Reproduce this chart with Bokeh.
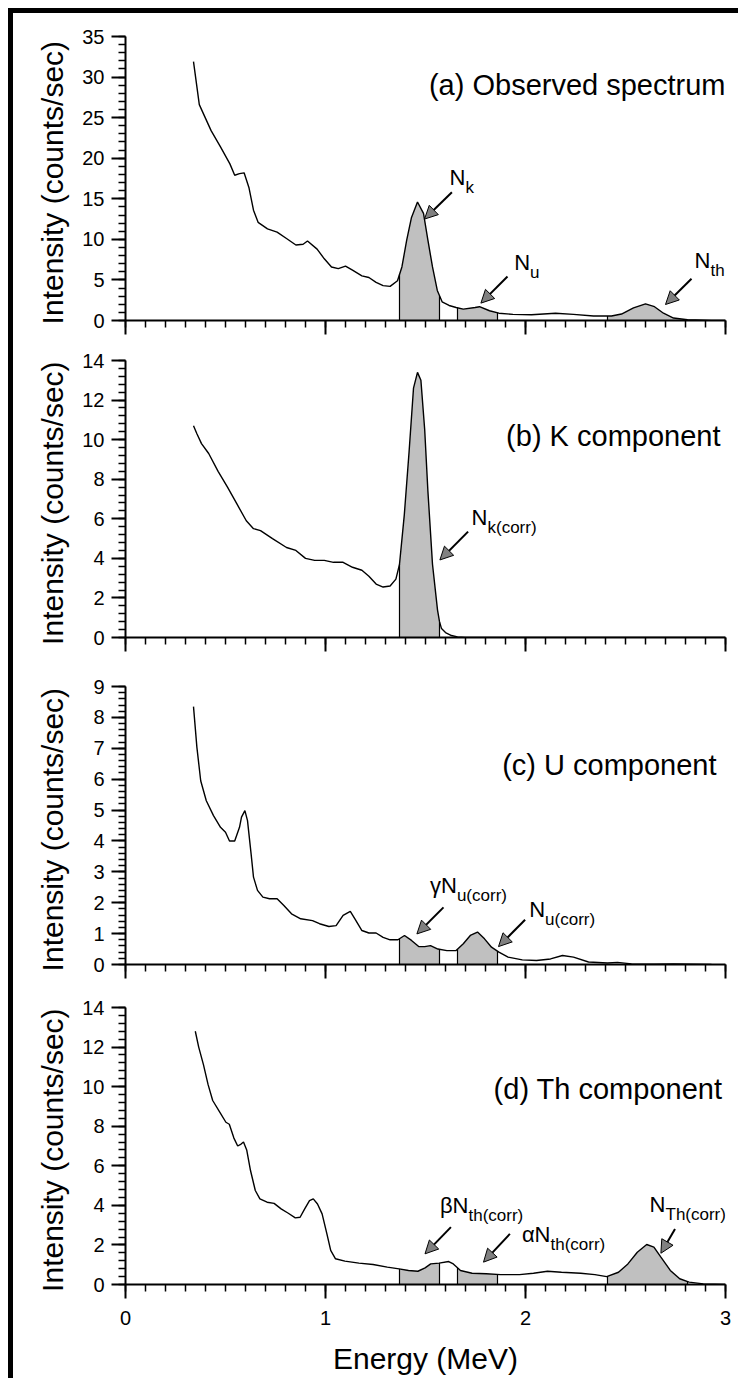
import numpy as np
from bokeh.plotting import figure
from bokeh.models import (Range1d, FixedTicker, Arrow, NormalHead, Label, Spacer,
                          CustomLabelingPolicy)
from bokeh.layouts import column, row
from bokeh.embed import file_html
from bokeh.resources import INLINE

FONT = "Liberation Sans"

# ---------------- data ----------------
energy_a = [0.34, 0.369, 0.428, 0.475, 0.522, 0.546, 0.57, 0.593, 0.617, 0.64, 0.663, 0.71, 0.758,
            0.805, 0.852, 0.888, 0.91, 0.958, 0.994, 1.03, 1.064, 1.1, 1.135, 1.182, 1.217, 1.253,
            1.288, 1.323, 1.36, 1.382, 1.406, 1.43, 1.46, 1.49, 1.512, 1.535, 1.559, 1.583, 1.618,
            1.653, 1.689, 1.748, 1.77, 1.82, 1.867, 1.937, 2.03, 2.15, 2.24, 2.34, 2.43, 2.48,
            2.54, 2.6, 2.645, 2.69, 2.74, 2.81, 2.93, 3.0]
counts_a = [31.9, 26.6, 23.4, 21.4, 19.3, 17.9, 18.1, 18.2, 16.4, 13.6, 12.1, 11.3, 10.9,
            10.1, 9.3, 9.4, 9.8, 8.8, 7.6, 6.6, 6.4, 6.7, 6.2, 5.5, 5.3, 4.7,
            4.3, 4.2, 4.9, 6.6, 9.9, 12.7, 14.6, 13.2, 9.9, 6.6, 3.7, 2.3, 1.85,
            1.6, 1.4, 1.6, 1.7, 1.2, 0.9, 0.75, 0.7, 0.9, 0.75, 0.55, 0.55, 0.8,
            1.55, 2.05, 1.7, 0.9, 0.3, 0.1, 0.02, 0.0]

energy_b = [0.34, 0.357, 0.38, 0.416, 0.463, 0.51, 0.557, 0.604, 0.64, 0.675, 0.735, 0.805, 0.852,
            0.9, 0.946, 0.994, 1.04, 1.088, 1.135, 1.182, 1.217, 1.253, 1.288, 1.323, 1.352, 1.37,
            1.394, 1.418, 1.44, 1.46, 1.477, 1.496, 1.512, 1.535, 1.56, 1.57, 1.58, 1.6, 1.63,
            1.66, 1.7, 3.0]
counts_b = [10.7, 10.3, 9.8, 9.3, 8.4, 7.6, 6.75, 5.9, 5.5, 5.4, 5.0, 4.55, 4.4,
            4.0, 3.9, 3.9, 3.8, 3.8, 3.55, 3.4, 3.1, 2.7, 2.55, 2.6, 2.95, 3.7,
            6.2, 9.4, 12.6, 13.4, 13.0, 10.5, 7.4, 3.7, 1.4, 0.8, 0.45, 0.25, 0.1,
            0.03, 0.0, 0.0]

energy_c = [0.34, 0.357, 0.376, 0.404, 0.44, 0.475, 0.5, 0.52, 0.546, 0.57, 0.58, 0.597, 0.61,
            0.628, 0.64, 0.66, 0.687, 0.72, 0.758, 0.793, 0.83, 0.876, 0.935, 0.97, 1.017, 1.053,
            1.088, 1.124, 1.147, 1.182, 1.217, 1.253, 1.288, 1.323, 1.362, 1.395, 1.43, 1.466,
            1.496, 1.525, 1.562, 1.607, 1.653, 1.689, 1.724, 1.76, 1.795, 1.83, 1.867, 1.913,
            1.984, 2.055, 2.125, 2.185, 2.24, 2.315, 2.41, 2.46, 2.53, 2.645, 2.74, 2.93]
counts_c = [8.35, 7.03, 5.95, 5.3, 4.82, 4.44, 4.28, 4.0, 4.0, 4.44, 4.77, 4.98, 4.66,
            3.58, 2.83, 2.4, 2.18, 2.13, 2.13, 1.9, 1.64, 1.48, 1.42, 1.32, 1.23, 1.26,
            1.59, 1.72, 1.48, 1.1, 1.02, 1.02, 0.88, 0.8, 0.8, 0.94, 0.78, 0.58,
            0.58, 0.61, 0.5, 0.45, 0.45, 0.67, 0.94, 1.05, 0.83, 0.56, 0.4, 0.24,
            0.15, 0.13, 0.18, 0.29, 0.24, 0.08, 0.05, 0.07, 0.02, 0.01, 0.02, 0.0]

energy_d = [0.349, 0.366, 0.39, 0.413, 0.436, 0.472, 0.502, 0.519, 0.542, 0.561, 0.578, 0.59, 0.606,
            0.625, 0.649, 0.672, 0.708, 0.743, 0.778, 0.814, 0.849, 0.873, 0.896, 0.92, 0.939, 0.96,
            0.983, 1.007, 1.026, 1.05, 1.097, 1.167, 1.238, 1.309, 1.368, 1.415, 1.462, 1.498, 1.526,
            1.568, 1.616, 1.639, 1.675, 1.733, 1.804, 1.875, 1.97, 2.04, 2.11, 2.18, 2.276, 2.347,
            2.406, 2.465, 2.512, 2.559, 2.606, 2.642, 2.677, 2.724, 2.771, 2.818, 2.889, 3.0]
counts_d = [12.8, 12.0, 11.1, 10.1, 9.3, 8.7, 8.2, 8.1, 7.4, 7.0, 7.1, 7.2, 6.8,
            5.76, 4.75, 4.33, 4.16, 4.1, 3.82, 3.6, 3.37, 3.4, 3.82, 4.24, 4.33, 4.07,
            3.57, 2.56, 1.72, 1.3, 1.18, 1.08, 1.01, 0.88, 0.79, 0.71, 0.67, 0.84, 1.04,
            1.08, 1.16, 1.04, 0.71, 0.57, 0.54, 0.5, 0.5, 0.57, 0.67, 0.62, 0.57, 0.5,
            0.4, 0.62, 1.04, 1.63, 2.02, 1.89, 1.38, 0.71, 0.29, 0.12, 0.03, 0.0]

# energy windows (MeV)
k_window = (1.37, 1.57)
u_window = (1.66, 1.86)
th_window = (2.41, 2.81)

# axis ticks
x_ticks = [0, 1, 2, 3]
y_ticks_a = [0, 5, 10, 15, 20, 25, 30, 35]
y_ticks_b = [0, 2, 4, 6, 8, 10, 12, 14]
y_ticks_c = [0, 1, 2, 3, 4, 5, 6, 7, 8, 9]
y_ticks_d = [0, 2, 4, 6, 8, 10, 12, 14]

# panel captions: text, right x (MeV), baseline y
titles = ["(a) Observed spectrum", "(b) K component", "(c) U component", "(d) Th component"]
title_pos = [(3.0, 28.0), (2.975, 9.8), (2.955, 6.2), (2.985, 9.5)]

# arrows: x_start, y_start, x_end, y_end
arrows_a = [(1.632, 15.8, 1.495, 12.5), (1.91, 5.43, 1.777, 2.14), (2.83, 5.14, 2.70, 1.97)]
arrows_b = [(1.713, 5.35, 1.572, 3.92)]
arrows_c = [(1.59, 1.85, 1.457, 0.99), (1.998, 1.45, 1.865, 0.58)]
arrows_d = [(1.627, 2.9, 1.4975, 1.55), (1.922, 2.56, 1.79, 1.13), (2.7475, 2.81, 2.677, 1.58)]

# labels: main text, subscript, junction x, baseline y
labels_a = [("N", "k", 1.70, 16.65), ("N", "u", 2.023, 6.17), ("N", "th", 2.925, 6.41)]
labels_b = [("N", "k(corr)", 1.81, 5.66)]
labels_c = [("\u03b3N", "u(corr)", 1.657, 2.29), ("N", "u(corr)", 2.098, 1.53)]
labels_d = [("\u03b2N", "th(corr)", 1.715, 3.59), ("\u03b1N", "th(corr)", 2.125, 2.14),
            ("N", "Th(corr)", 2.70, 3.65)]

FILL = "#c0c0c0"
TEXT_LIFT = 8

HIDE_LABELS = "for (const i of indices) { indices.unset(i) }\nreturn indices"


def make_panel(energy, counts, ymax, yticks, windows, arrows, labels, title, tpos,
               top, fh, bottom, left, right, show_x, label_standoff):
    p = figure(frame_width=600, frame_height=fh, x_range=Range1d(0, 3), y_range=Range1d(0, ymax),
               output_backend="svg", toolbar_location=None, title=None,
               min_border_left=left, min_border_right=right, min_border_top=top,
               min_border_bottom=bottom)
    p.outline_line_color = None
    p.xgrid.visible = False
    p.ygrid.visible = False
    p.background_fill_color = "white"
    p.border_fill_color = "white"

    e = np.array(energy, dtype=float)
    c = np.array(counts, dtype=float)
    for (lo, hi) in windows:
        inside = (e > lo) & (e < hi)
        ew = np.concatenate([[lo], e[inside], [hi]])
        cw = np.interp(ew, e, c)
        p.varea(x=ew, y1=np.zeros_like(ew), y2=cw, fill_color=FILL)
        p.segment(x0=[lo, hi], y0=[0, 0], x1=[lo, hi], y1=[cw[0], cw[-1]],
                  line_color="black", line_width=1.2)
    p.line(e, c, line_color="black", line_width=1.4)

    for (xs, ys, xe, ye) in arrows:
        p.add_layout(Arrow(end=NormalHead(size=13, fill_color="#808080", line_color="black",
                                          line_width=1),
                           x_start=xs, y_start=ys, x_end=xe, y_end=ye,
                           line_color="black", line_width=2))
    for (main, sub, lx, ly) in labels:
        p.add_layout(Label(x=lx, y=ly, text=main, text_align="right", text_baseline="alphabetic",
                           y_offset=TEXT_LIFT, text_font=FONT, text_font_size="22px",
                           text_color="black"))
        p.add_layout(Label(x=lx, y=ly, text=sub, text_align="left", text_baseline="alphabetic",
                           y_offset=TEXT_LIFT - 10, text_font=FONT, text_font_size="17px",
                           text_color="black"))
    p.add_layout(Label(x=tpos[0], y=tpos[1], text=title, text_align="right",
                       text_baseline="alphabetic", y_offset=TEXT_LIFT, text_font=FONT,
                       text_font_size="29px", text_color="black"))

    xt = FixedTicker(ticks=x_ticks, minor_ticks=list(np.round(np.arange(0, 3.001, 0.1), 3)))
    step = yticks[1] - yticks[0]
    yt = FixedTicker(ticks=yticks,
                     minor_ticks=list(np.round(np.arange(0, ymax + 1e-9, step / 5.0), 4)))
    p.xaxis.ticker = xt
    p.yaxis.ticker = yt
    for ax in (p.xaxis[0], p.yaxis[0]):
        ax.axis_line_width = 2
        ax.axis_line_color = "black"
        ax.major_tick_line_width = 2
        ax.minor_tick_line_width = 1.5
        ax.major_tick_line_color = "black"
        ax.minor_tick_line_color = "black"
        ax.major_tick_in = 0
        ax.minor_tick_in = 0
        ax.major_tick_out = 14
        ax.minor_tick_out = 7
        ax.major_label_text_font = FONT
        ax.major_label_text_color = "black"
        ax.axis_label_text_font = FONT
        ax.axis_label_text_font_style = "normal"
        ax.axis_label_text_color = "black"
        ax.axis_label_text_font_size = "30px"
    p.yaxis.major_label_text_font_size = "20px"
    p.yaxis.major_label_standoff = 7
    p.yaxis.axis_label = "Intensity  (counts/sec)"
    p.yaxis.axis_label_standoff = label_standoff
    if show_x:
        p.xaxis.major_label_text_font_size = "20px"
        p.xaxis.major_label_standoff = 12
        p.xaxis.axis_label = "Energy (MeV)"
        p.xaxis.axis_label_standoff = 14
    else:
        p.xaxis.major_label_text_font_size = "1px"
        p.xaxis.major_label_standoff = 0
        p.xaxis.major_label_policy = CustomLabelingPolicy(code=HIDE_LABELS)
    return p


pa = make_panel(energy_a, counts_a, 35, y_ticks_a, [k_window, u_window, th_window], arrows_a,
                labels_a, titles[0], title_pos[0], 23, 284, 20, 109, 16, False, 10)
pb = make_panel(energy_b, counts_b, 14, y_ticks_b, [k_window], arrows_b,
                labels_b, titles[1], title_pos[1], 20, 277, 24, 109, 16, False, 10)
pc = make_panel(energy_c, counts_c, 9, y_ticks_c, [k_window, u_window], arrows_c,
                labels_c, titles[2], title_pos[2], 25, 278, 21, 109, 16, False, 21)
pd = make_panel(energy_d, counts_d, 14, y_ticks_d, [k_window, u_window, th_window], arrows_d,
                labels_d, titles[3], title_pos[3], 22, 277, 88, 112, 13, True, 10)

figs = column(pa, pb, pc, pd, spacing=0)
total_h = (23 + 284 + 20) + (20 + 277 + 24) + (25 + 278 + 21) + (22 + 277 + 88)
fig_w = 109 + 600 + 16
left_margin = Spacer(width=8, height=5 + total_h + 6)
top_margin = Spacer(width=8 + 5 + fig_w, height=8)
left_bar = Spacer(width=5, height=total_h + 6, styles={"background-color": "black"})
top_bar = Spacer(width=5 + fig_w, height=5, styles={"background-color": "black"})
framed = column(top_bar, row(left_bar, figs, spacing=0), spacing=0)
layout = column(top_margin, row(left_margin, framed, spacing=0), spacing=0)

open("out.html", "w").write(file_html(layout, INLINE))
